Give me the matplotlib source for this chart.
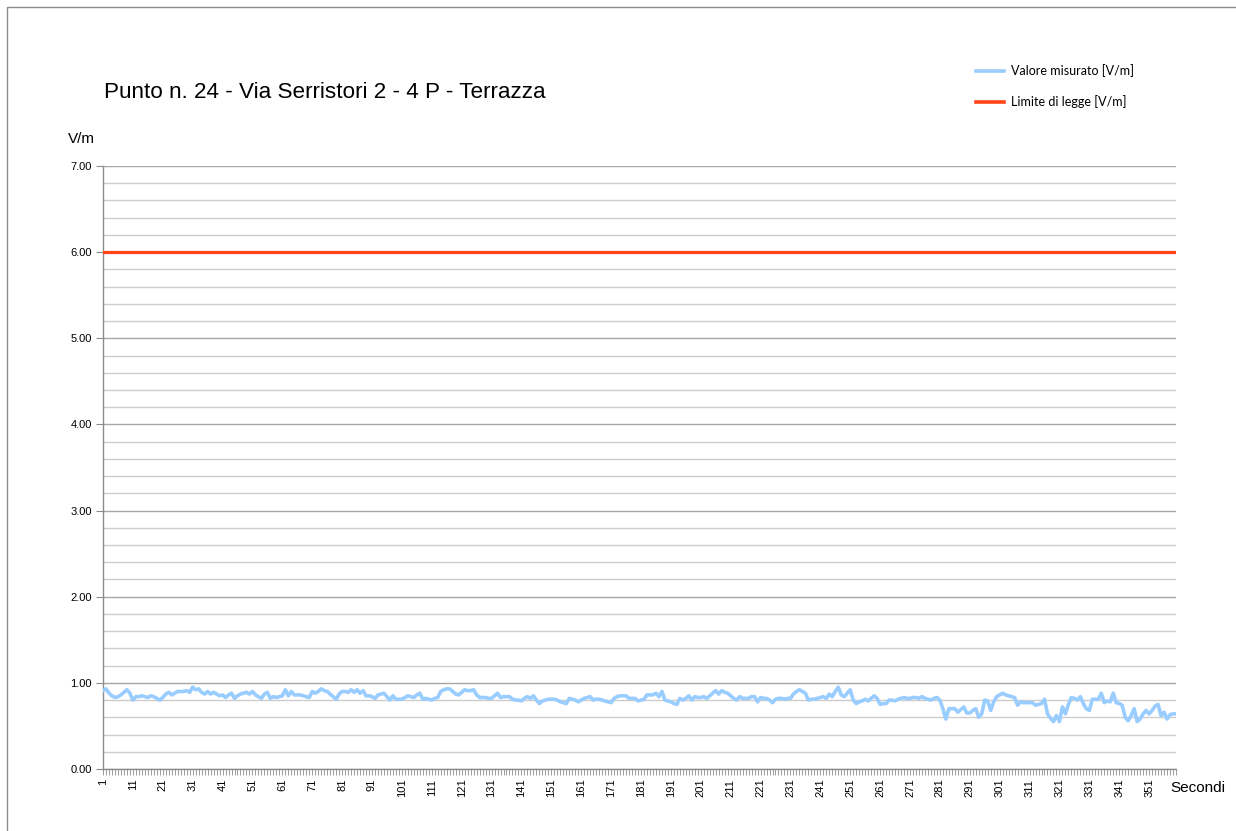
import numpy as np
import matplotlib.pyplot as plt
from matplotlib.patches import Rectangle
from matplotlib.lines import Line2D

plt.rcParams['font.family'] = ['Liberation Sans', 'DejaVu Sans']

# measured field, one value per second (V/m)
valori = [
    0.91, 0.93, 0.88, 0.85, 0.83, 0.84, 0.86, 0.89, 0.92, 0.88,
    0.80, 0.84, 0.84, 0.85, 0.84, 0.83, 0.85, 0.84, 0.82, 0.80,
    0.83, 0.87, 0.89, 0.86, 0.88, 0.90, 0.90, 0.90, 0.91, 0.89,
    0.95, 0.92, 0.93, 0.89, 0.87, 0.90, 0.87, 0.89, 0.87, 0.85,
    0.86, 0.83, 0.86, 0.88, 0.82, 0.85, 0.87, 0.88, 0.89, 0.87,
    0.90, 0.86, 0.84, 0.82, 0.87, 0.89, 0.82, 0.84, 0.83, 0.84,
    0.85, 0.92, 0.85, 0.90, 0.86, 0.86, 0.86, 0.85, 0.84, 0.83,
    0.90, 0.88, 0.90, 0.93, 0.91, 0.90, 0.87, 0.84, 0.81, 0.87,
    0.90, 0.90, 0.89, 0.92, 0.89, 0.92, 0.88, 0.91, 0.85, 0.85,
    0.84, 0.82, 0.86, 0.87, 0.88, 0.84, 0.80, 0.85, 0.81, 0.81,
    0.81, 0.83, 0.85, 0.84, 0.83, 0.86, 0.88, 0.81, 0.82, 0.81,
    0.80, 0.82, 0.83, 0.90, 0.92, 0.93, 0.93, 0.90, 0.87, 0.86,
    0.89, 0.92, 0.91, 0.91, 0.92, 0.86, 0.83, 0.83, 0.83, 0.82,
    0.82, 0.85, 0.88, 0.83, 0.84, 0.84, 0.84, 0.81, 0.80, 0.80,
    0.79, 0.82, 0.84, 0.82, 0.85, 0.80, 0.76, 0.79, 0.80, 0.81,
    0.81, 0.81, 0.80, 0.78, 0.77, 0.76, 0.82, 0.81, 0.80, 0.78,
    0.80, 0.82, 0.83, 0.84, 0.80, 0.81, 0.81, 0.80, 0.79, 0.78,
    0.77, 0.82, 0.84, 0.85, 0.85, 0.85, 0.82, 0.82, 0.82, 0.79,
    0.80, 0.81, 0.86, 0.86, 0.86, 0.88, 0.84, 0.90, 0.80, 0.79,
    0.78, 0.76, 0.75, 0.82, 0.80, 0.82, 0.85, 0.80, 0.84, 0.83,
    0.83, 0.84, 0.82, 0.85, 0.88, 0.91, 0.87, 0.91, 0.89, 0.88,
    0.85, 0.82, 0.80, 0.84, 0.82, 0.82, 0.82, 0.84, 0.84, 0.78,
    0.83, 0.82, 0.82, 0.80, 0.77, 0.81, 0.82, 0.82, 0.81, 0.82,
    0.82, 0.87, 0.90, 0.92, 0.90, 0.88, 0.80, 0.81, 0.81, 0.82,
    0.83, 0.84, 0.82, 0.87, 0.84, 0.90, 0.95, 0.86, 0.84, 0.88,
    0.92, 0.80, 0.76, 0.78, 0.79, 0.81, 0.79, 0.82, 0.85, 0.82,
    0.75, 0.76, 0.76, 0.80, 0.80, 0.79, 0.81, 0.82, 0.83, 0.82,
    0.82, 0.83, 0.83, 0.82, 0.84, 0.82, 0.81, 0.80, 0.82, 0.83,
    0.80, 0.70, 0.58, 0.70, 0.70, 0.70, 0.66, 0.69, 0.72, 0.65,
    0.65, 0.68, 0.70, 0.60, 0.64, 0.80, 0.79, 0.68, 0.78, 0.84,
    0.86, 0.88, 0.86, 0.85, 0.84, 0.83, 0.74, 0.78, 0.77, 0.77,
    0.77, 0.77, 0.74, 0.75, 0.76, 0.81, 0.64, 0.59, 0.55, 0.62,
    0.55, 0.72, 0.64, 0.75, 0.83, 0.82, 0.80, 0.84, 0.76, 0.70,
    0.68, 0.81, 0.81, 0.81, 0.88, 0.77, 0.79, 0.78, 0.88, 0.77,
    0.76, 0.74, 0.60, 0.56, 0.62, 0.70, 0.55, 0.58, 0.64, 0.68,
    0.64, 0.68, 0.73, 0.75, 0.62, 0.66, 0.58, 0.63, 0.64, 0.64,
]
limite = 6.0  # legal limit V/m
secondi = np.arange(1, len(valori) + 1)

blu = '#99CCFF'
rosso = '#FF4516'

fig = plt.figure(figsize=(12.36, 8.31), dpi=100)
fig.patches.append(Rectangle((7 / 1236, -0.01), 1.02, 1 - 7 / 831 + 0.01,
                             transform=fig.transFigure, fill=False,
                             edgecolor='#8c8c8c', linewidth=1))
ax = fig.add_axes([103 / 1236, 1 - 769 / 831, (1176 - 103) / 1236, (769 - 166) / 831])

ax.plot(secondi, valori, color=blu, linewidth=2.6, solid_joinstyle='round', zorder=3)
ax.plot(secondi, np.full(len(secondi), limite), color=rosso, linewidth=2.3, zorder=3)

# y axis: labels every 1, grid every 0.2
ax.set_ylim(0, 7)
ax.set_yticks(np.arange(0, 7.01, 1.0))
ax.set_yticklabels(['%.2f' % v for v in np.arange(0, 7.01, 1.0)], fontsize=8)
ax.set_yticks(np.arange(0, 7.01, 0.2), minor=True)
ax.tick_params(axis='y', which='major', length=5, width=0.8, color='#8c8c8c', pad=3)
ax.tick_params(axis='y', which='minor', length=0)
ax.grid(axis='y', which='minor', color='#cccccc', linewidth=1)
ax.grid(axis='y', which='major', color='#a6a6a6', linewidth=1)

# x axis: a tick each second, a label every ten
ax.set_xlim(1, len(valori))
ax.set_xticks(secondi)
ax.set_xticklabels([str(s) if (s - 1) % 10 == 0 else '' for s in secondi],
                   rotation=90, fontsize=8)
ax.tick_params(axis='x', length=4, width=0.6, color='#8c8c8c', pad=3)

for s in ['top', 'right']:
    ax.spines[s].set_visible(False)
for s in ['left', 'bottom']:
    ax.spines[s].set_color('#8c8c8c')
    ax.spines[s].set_linewidth(1)
ax.set_axisbelow(True)

fig.text(104 / 1236, 1 - 92 / 831, 'Punto n. 24 - Via Serristori 2 - 4 P - Terrazza',
         fontsize=16.2, va='center', ha='left')
fig.text(68 / 1236, 1 - 139 / 831, 'V/m', fontsize=11, va='center', ha='left')
fig.text(1170 / 1236, 1 - 788 / 831, 'Secondi', fontsize=11, va='center', ha='left')

handles = [Line2D([], [], color=blu, linewidth=2.6),
           Line2D([], [], color=rosso, linewidth=2.6)]
fig.legend(handles, ['Valore misurato [V/m]', 'Limite di legge [V/m]'],
           loc='upper left', bbox_to_anchor=(965 / 1236, 1 - 53 / 831),
           frameon=False, prop={'family': 'Lato', 'size': 9},
           handlelength=2.25, labelspacing=1.45, handletextpad=0.55)

fig.savefig('out.png', dpi=100)
